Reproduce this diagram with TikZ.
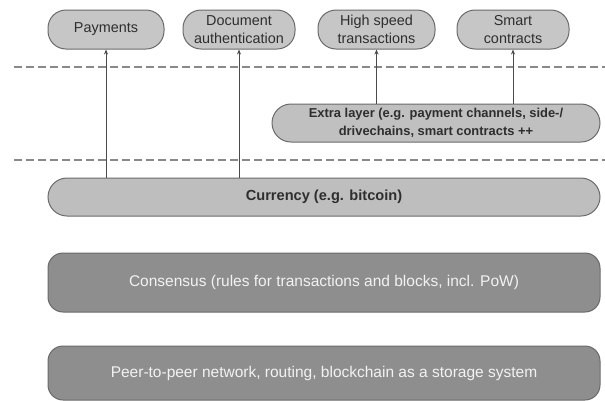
\documentclass[tikz,border=0pt]{standalone}
\usepackage{fontspec}
\setmainfont{Liberation Sans}
\usetikzlibrary{arrows.meta}
\definecolor{boxlight}{HTML}{C6C6C6}
\definecolor{boxcur}{HTML}{BEBEBE}
\definecolor{boxmid}{HTML}{C0C0C0}
\definecolor{boxdark}{HTML}{8E8E8E}
\definecolor{edge}{HTML}{6A6A6A}
\definecolor{txtdark}{HTML}{2E2E2E}
\definecolor{txtlight}{HTML}{F2F2F2}
\definecolor{dashcol}{HTML}{8A8A8A}
\begin{document}
\begin{tikzpicture}[x=1pt,y=-1pt,
  appbox/.style={draw=edge, line width=1pt, fill=boxlight, rounded corners=18pt, minimum width=#1, minimum height=39pt, inner sep=0pt, align=center, text=txtdark, font=\fontsize{14.4}{18.5}\selectfont},
  layerdark/.style={draw=edge, line width=1pt, fill=boxdark, rounded corners=15pt, minimum width=552pt, minimum height=#1, inner sep=0pt, text=txtlight, font=\fontsize{15.5}{18}\selectfont},
  sepline/.style={draw=dashcol, line width=1.2pt, dash pattern=on 7.5pt off 4.5pt},
  uparrow/.style={draw=edge!70!black, line width=1pt, -{Stealth[length=5pt,width=4pt]}}
]
\useasboundingbox (0,0) rectangle (605,400);

% separators
\coordinate (s1a) at (14,67);
\coordinate (s1b) at (605,67);
\coordinate (s2a) at (14,160);
\coordinate (s2b) at (605,160);
\draw[sepline] (s1a) -- (s1b);
\draw[sepline] (s2a) -- (s2b);

% application boxes
\node[appbox=116pt] (pay) at (106,29.5) {Payments};
\node[appbox=112pt] (doc) at (239,29.5) {Document\\authentication};
\node[appbox=117pt] (hst) at (376.5,29.5) {High speed\\transactions};
\node[appbox=112pt] (sc) at (513,29.5) {Smart\\contracts};

% extra layer
\node[draw=edge, line width=1pt, fill=boxmid, rounded corners=19pt, minimum width=328pt, minimum height=38pt, inner sep=0pt, align=center, text=txtdark, font=\fontsize{12.9}{18.5}\selectfont\bfseries] (extra) at (436,123) {Extra layer (e.g. payment channels, side-/\\drivechains, smart contracts ++};

% base layers
\node[draw=edge, line width=1pt, fill=boxcur, rounded corners=19pt, minimum width=552pt, minimum height=38pt, inner sep=0pt, text=txtdark, font=\fontsize{14.6}{17}\selectfont\bfseries] (cur) at (324,197) {Currency (e.g. bitcoin)};
\node[layerdark=59pt] (cons) at (324,282.5) {Consensus (rules for transactions and blocks, incl. PoW)};
\node[layerdark=54pt] (p2p) at (324,373) {Peer-to-peer network, routing, blockchain as a storage system};

% arrows
\draw[uparrow] (pay.south |- cur.north) -- (pay.south);
\draw[uparrow] (doc.south |- cur.north) -- (doc.south);
\draw[uparrow] (hst.south |- extra.north) -- (hst.south);
\draw[uparrow] (sc.south |- extra.north) -- (sc.south);
\end{tikzpicture}
\end{document}
